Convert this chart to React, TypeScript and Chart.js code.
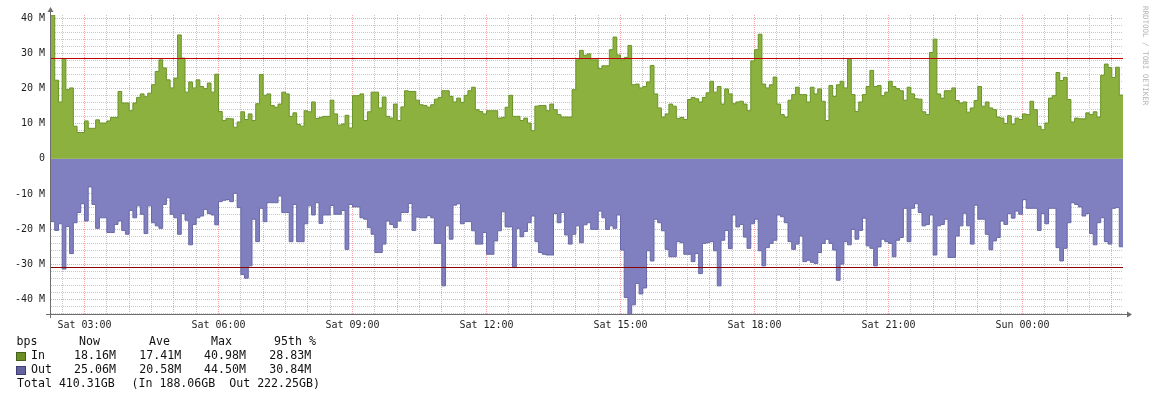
import React, { useEffect, useRef } from "react";
import { Chart, registerables } from "chart.js";

Chart.register(...registerables);

// 5-minute samples starting Sat 02:15 (minute 0), values in Mbit/s
const STEP_MINUTES = 5;
const TOTAL_MINUTES = 1440;

const timeLabels = ["Sat 03:00", "Sat 06:00", "Sat 09:00", "Sat 12:00", "Sat 15:00", "Sat 18:00", "Sat 21:00", "Sun 00:00"];
const timeLabelMinutes = [45, 225, 405, 585, 765, 945, 1125, 1305];

const inValues = [
  40.98, 22.4, 16.2, 28.5, 19.7, 20.2, 9.3, 7.5, 7.5, 10.8,
  8.7, 8.7, 11.1, 10.2, 10.2, 10.8, 11.8, 11.8, 19.2, 15.9,
  15.9, 13.7, 15.9, 17.5, 18.5, 17.7, 18.7, 21.1, 24.9, 28.2,
  25.9, 22.5, 20.2, 23.0, 35.3, 28.7, 19.0, 21.9, 20.2, 22.5,
  20.6, 20.0, 21.6, 19.0, 24.1, 13.5, 10.9, 11.5,
  11.4, 9.0, 10.5, 13.4, 11.2, 12.8, 10.9, 15.7, 24.0, 18.1,
  18.5, 15.2, 14.7, 15.6, 19.0, 18.5, 12.1, 13.1, 9.8, 9.3,
  13.7, 13.4, 16.2, 11.5, 11.8, 12.1, 12.1, 16.7, 12.8, 9.6,
  9.9, 12.4, 8.8, 18.0, 18.0, 18.5, 10.9, 13.4, 19.0, 19.0,
  14.5, 17.6, 12.1, 11.6, 15.6, 10.9, 14.8, 19.4,
  19.2, 19.2, 16.7, 15.4, 15.2, 14.7, 15.4, 17.0, 17.5, 19.4,
  19.4, 17.8, 16.2, 17.3, 16.1, 18.1, 19.4, 20.4, 14.0, 13.5,
  12.8, 13.7, 13.7, 13.7, 11.6, 11.8, 14.7, 18.1, 12.1, 12.1,
  10.9, 11.6, 10.2, 8.0, 15.0, 15.2, 15.2, 13.7, 15.6, 14.0,
  12.6, 11.9, 11.9, 11.9, 19.7, 28.2, 30.9, 29.5,
  29.9, 28.2, 28.2, 25.7, 26.5, 26.5, 31.1, 34.7, 29.6, 28.2,
  28.9, 32.3, 21.1, 21.3, 20.2, 20.6, 21.9, 26.6, 18.5, 14.5,
  11.9, 12.8, 15.6, 15.0, 11.5, 11.8, 11.2, 16.9, 17.5, 17.1,
  16.2, 17.5, 18.8, 22.1, 19.0, 20.6, 15.6, 19.9, 18.5, 15.7,
  16.2, 16.4, 15.6, 13.7, 27.9, 31.1, 35.5, 21.3,
  20.2, 21.1, 23.3, 15.6, 12.6, 11.9, 16.7, 18.3, 20.4, 18.3,
  18.3, 16.2, 20.4, 18.5, 19.9, 16.4, 10.9, 20.9, 17.8, 21.1,
  22.1, 20.2, 28.5, 18.3, 13.5, 16.2, 18.3, 20.6, 25.2, 20.6,
  20.9, 18.0, 19.0, 22.1, 20.6, 20.0, 19.4, 16.7, 20.4, 18.5,
  17.1, 17.0, 13.4, 12.6, 30.3, 34.1, 18.5, 17.3,
  19.4, 19.4, 20.2, 16.6, 15.9, 16.2, 13.3, 14.5, 16.6, 20.6,
  15.0, 16.2, 14.5, 14.0, 11.9, 11.6, 10.1, 12.3, 9.9, 11.6,
  11.2, 12.8, 12.6, 16.4, 14.0, 9.3, 8.3, 10.2, 17.3, 18.0,
  24.6, 22.3, 23.2, 16.9, 10.5, 11.6, 11.4, 11.4, 13.1, 12.6,
  13.4, 11.9, 23.8, 27.0, 26.0, 23.2, 26.1, 18.16,
];

const outValues = [
  -17.9, -20.4, -18.5, -31.4, -19.3, -27.0, -18.2, -15.3, -12.8, -17.7,
  -8.0, -13.0, -19.8, -16.8, -16.8, -21.0, -21.0, -18.7, -17.7, -20.4,
  -21.5, -14.7, -16.8, -13.4, -15.8, -21.3, -13.4, -18.2, -19.1, -19.8,
  -13.0, -11.1, -15.8, -16.8, -21.5, -15.6, -17.5, -24.5, -18.7, -16.8,
  -16.3, -14.4, -15.6, -16.0, -18.8, -12.2, -11.8, -11.6,
  -12.2, -9.8, -13.9, -33.0, -34.0, -30.5, -17.2, -23.6, -14.1, -17.9,
  -12.5, -12.5, -12.5, -10.6, -15.3, -15.3, -23.6, -13.0, -23.6, -23.6,
  -18.5, -13.4, -16.0, -12.5, -18.4, -16.0, -16.0, -13.3, -15.8, -15.8,
  -14.7, -25.8, -13.0, -13.7, -13.7, -16.8, -17.2, -19.6, -21.5, -26.7,
  -26.7, -24.3, -17.7, -18.7, -19.6, -17.7, -15.3, -15.3,
  -12.7, -20.4, -16.6, -16.8, -16.8, -16.2, -16.8, -24.1, -24.1, -36.2,
  -19.1, -22.9, -13.2, -12.8, -18.5, -17.9, -17.9, -20.5, -24.3, -24.3,
  -21.0, -27.2, -27.2, -23.4, -20.5, -15.1, -19.4, -19.4, -31.0, -19.8,
  -22.2, -20.7, -18.2, -16.3, -23.6, -26.7, -27.2, -27.4, -27.4, -15.6,
  -18.2, -15.3, -21.7, -24.3, -21.5, -19.1, -23.9, -18.8,
  -18.2, -20.1, -20.1, -14.9, -16.8, -20.1, -19.1, -19.8, -16.0, -26.0,
  -39.5, -44.5, -41.6, -35.5, -38.5, -36.8, -26.2, -29.1, -17.2, -18.2,
  -20.5, -25.8, -27.9, -27.9, -23.6, -23.9, -27.2, -27.2, -29.3, -27.0,
  -32.7, -24.1, -23.9, -23.6, -26.2, -36.2, -23.2, -20.4, -25.6, -16.0,
  -19.4, -18.7, -22.3, -25.5, -18.5, -17.2, -26.2, -30.5,
  -25.3, -24.1, -23.2, -16.0, -16.5, -18.2, -23.6, -25.8, -24.3, -22.0,
  -29.3, -28.9, -29.5, -29.8, -26.7, -24.1, -22.9, -24.1, -26.0, -34.6,
  -30.0, -23.6, -24.5, -20.1, -22.9, -20.4, -16.9, -24.8, -25.5, -30.5,
  -25.1, -22.9, -23.6, -24.1, -27.9, -23.2, -22.4, -14.1, -23.6, -14.1,
  -12.8, -15.3, -19.1, -18.7, -16.0, -27.4, -19.1, -18.7,
  -17.2, -28.1, -28.1, -22.0, -19.1, -15.5, -19.1, -24.3, -13.2, -17.2,
  -17.2, -21.5, -25.9, -23.4, -22.4, -17.7, -18.7, -15.6, -16.9, -14.9,
  -15.8, -11.6, -14.1, -14.1, -14.1, -20.4, -15.6, -18.5, -14.1, -14.1,
  -25.3, -29.1, -25.5, -18.2, -12.5, -13.0, -13.7, -16.3, -15.6, -21.3,
  -24.5, -18.2, -16.8, -23.6, -24.3, -14.1, -13.9, -25.06,
];

const in95th = 28.83;
const out95th = -30.84;
const yMin = -44.5;
const yMax = 40.98;
const yTickStep = 2;
const yLabelStep = 10;

const legendHeader = ["bps", "Now", "Ave", "Max", "95th %"];
const inStats = ["18.16M", "17.41M", "40.98M", "28.83M"];
const outStats = ["25.06M", "20.58M", "44.50M", "30.84M"];
const totalText = "Total 410.31GB";
const totalSplit = "(In 188.06GB  Out 222.25GB)";

const MONO = "'DejaVu Sans Mono', monospace";

function toPoints(vals: number[]) {
  const pts = vals.map((v, i) => ({ x: i * STEP_MINUTES, y: v }));
  pts.push({ x: vals.length * STEP_MINUTES, y: vals[vals.length - 1] });
  return pts;
}

const rrdPlugin = {
  id: "rrdAxes",
  afterDraw(chart: any) {
    const { ctx, chartArea: a } = chart;
    const ys = chart.scales.y;
    ctx.save();
    // 95th percentile rules
    const rules: [number, string][] = [[in95th, "#c00000"], [out95th, "#8a0000"]];
    ctx.lineWidth = 1;
    for (const [v, col] of rules) {
      const py = Math.round(ys.getPixelForValue(v)) + 0.5;
      ctx.strokeStyle = col;
      ctx.beginPath();
      ctx.moveTo(a.left, py);
      ctx.lineTo(a.right, py);
      ctx.stroke();
    }
    // axes with arrows
    ctx.strokeStyle = "#6e6e6e";
    ctx.fillStyle = "#6e6e6e";
    const x0 = Math.round(a.left) - 0.5;
    const y0 = Math.round(a.bottom) - 0.5;
    ctx.beginPath();
    ctx.moveTo(x0, a.bottom + 3);
    ctx.lineTo(x0, a.top - 4);
    ctx.moveTo(a.left - 5, y0);
    ctx.lineTo(a.right + 4, y0);
    ctx.stroke();
    ctx.beginPath();
    ctx.moveTo(x0 - 3, a.top - 3);
    ctx.lineTo(x0 + 3, a.top - 3);
    ctx.lineTo(x0, a.top - 8);
    ctx.closePath();
    ctx.fill();
    ctx.beginPath();
    ctx.moveTo(a.right + 4, y0 - 3);
    ctx.lineTo(a.right + 4, y0 + 3);
    ctx.lineTo(a.right + 9, y0);
    ctx.closePath();
    ctx.fill();
    ctx.restore();
  },
};

const MINOR = "rgb(200,200,200)";
const MAJOR = "rgb(245,165,165)";

function RrdChart() {
  const ref = useRef<HTMLCanvasElement | null>(null);
  useEffect(() => {
    if (!ref.current) return;
    const chart = new Chart(ref.current, {
      type: "line",
      data: {
        datasets: [
          {
            data: toPoints(inValues), stepped: true, fill: "origin",
            backgroundColor: "#8db13f", borderColor: "#6a9428", borderWidth: 1, pointRadius: 0,
          },
          {
            data: toPoints(outValues), stepped: true, fill: "origin",
            backgroundColor: "#8080c0", borderColor: "#6868a6", borderWidth: 1, pointRadius: 0,
          },
        ] as any,
      },
      options: {
        animation: false,
        responsive: false,
        maintainAspectRatio: false,
        events: [],
        layout: { padding: { left: 0, right: 33, top: 15, bottom: 0 } },
        plugins: { legend: { display: false }, tooltip: { enabled: false } },
        scales: {
          x: {
            type: "linear",
            min: 0,
            max: TOTAL_MINUTES,
            z: 1,
            afterBuildTicks: (s: any) => {
              const t = [];
              for (let m = 15; m < TOTAL_MINUTES; m += 30) t.push({ value: m });
              s.ticks = t;
            },
            afterFit: (s: any) => { s.height = 19; },
            grid: {
              color: (c: any) => ((c.tick.value - 45) % 60 === 0 ? MAJOR : MINOR),
              lineWidth: 1,
              drawTicks: false,
            },
            border: { display: false, dash: [1, 1] },
            ticks: {
              autoSkip: false,
              maxRotation: 0,
              padding: 4,
              color: "#1e1e1e",
              font: { family: MONO, size: 10 },
              callback: (v: any) => {
                const i = timeLabelMinutes.indexOf(Number(v));
                return i >= 0 ? timeLabels[i] : "";
              },
            },
          },
          y: {
            type: "linear",
            min: yMin,
            max: yMax,
            z: 1,
            afterBuildTicks: (s: any) => {
              const t = [];
              for (let v = -44; v <= 40; v += yTickStep) t.push({ value: v });
              s.ticks = t;
            },
            afterFit: (s: any) => { s.width = 51; },
            grid: {
              color: (c: any) => (c.tick.value % yLabelStep === 0 ? MAJOR : MINOR),
              lineWidth: 1,
              drawTicks: false,
            },
            border: { display: false, dash: [1, 1] },
            ticks: {
              autoSkip: false,
              padding: 6,
              color: "#1e1e1e",
              font: { family: MONO, size: 10 },
              callback: (v: any) => {
                const n = Number(v);
                if (n % yLabelStep !== 0) return "";
                return n === 0 ? "0" : `${n} M`;
              },
            },
          },
        },
      } as any,
      plugins: [rrdPlugin],
    });
    return () => chart.destroy();
  }, []);
  return <canvas ref={ref} width={1156} height={334} style={{ display: "block", width: 1156, height: 334 }} />;
}

const txt = (left: number, top: number, s: string, key: string) => (
  <span key={key} style={{ position: "absolute", left, top, whiteSpace: "pre" }}>{s}</span>
);

export default function App() {
  const headerX = [16.5, 79, 149, 211, 274];
  const statX = [74, 139.3, 204, 269.3];
  const rowTop = [336, 350.3, 363.7, 377.7];
  return (
    <div style={{ position: "absolute", left: 0, top: 0, width: 1156, height: 397, background: "#fff", overflow: "hidden" }}>
      <RrdChart />
      <div style={{ position: "absolute", left: 0, top: 0, width: 1156, height: 397, fontFamily: MONO, fontSize: 11.6, lineHeight: 1, color: "#111" }}>
        {legendHeader.map((s, i) => txt(headerX[i], rowTop[0], s, "h" + i))}
        <span style={{ position: "absolute", left: 16, top: 352, width: 8, height: 7, background: "#6b8f24", border: "1px solid #44601a" }} />
        {txt(31, rowTop[1], "In", "inl")}
        {inStats.map((s, i) => txt(statX[i], rowTop[1], s, "i" + i))}
        <span style={{ position: "absolute", left: 16, top: 365.5, width: 8, height: 7, background: "#62629f", border: "1px solid #3e3e70" }} />
        {txt(31, rowTop[2], "Out", "outl")}
        {outStats.map((s, i) => txt(statX[i], rowTop[2], s, "o" + i))}
        {txt(17, rowTop[3], totalText, "t0")}
        {txt(131.5, rowTop[3], totalSplit, "t1")}
      </div>
      <div style={{ position: "absolute", left: 1141, top: 6, writingMode: "vertical-rl", fontFamily: MONO, fontSize: 7.5, lineHeight: 1, color: "#b4b4b4", whiteSpace: "pre" }}>
        RRDTOOL / TOBI OETIKER
      </div>
    </div>
  );
}
